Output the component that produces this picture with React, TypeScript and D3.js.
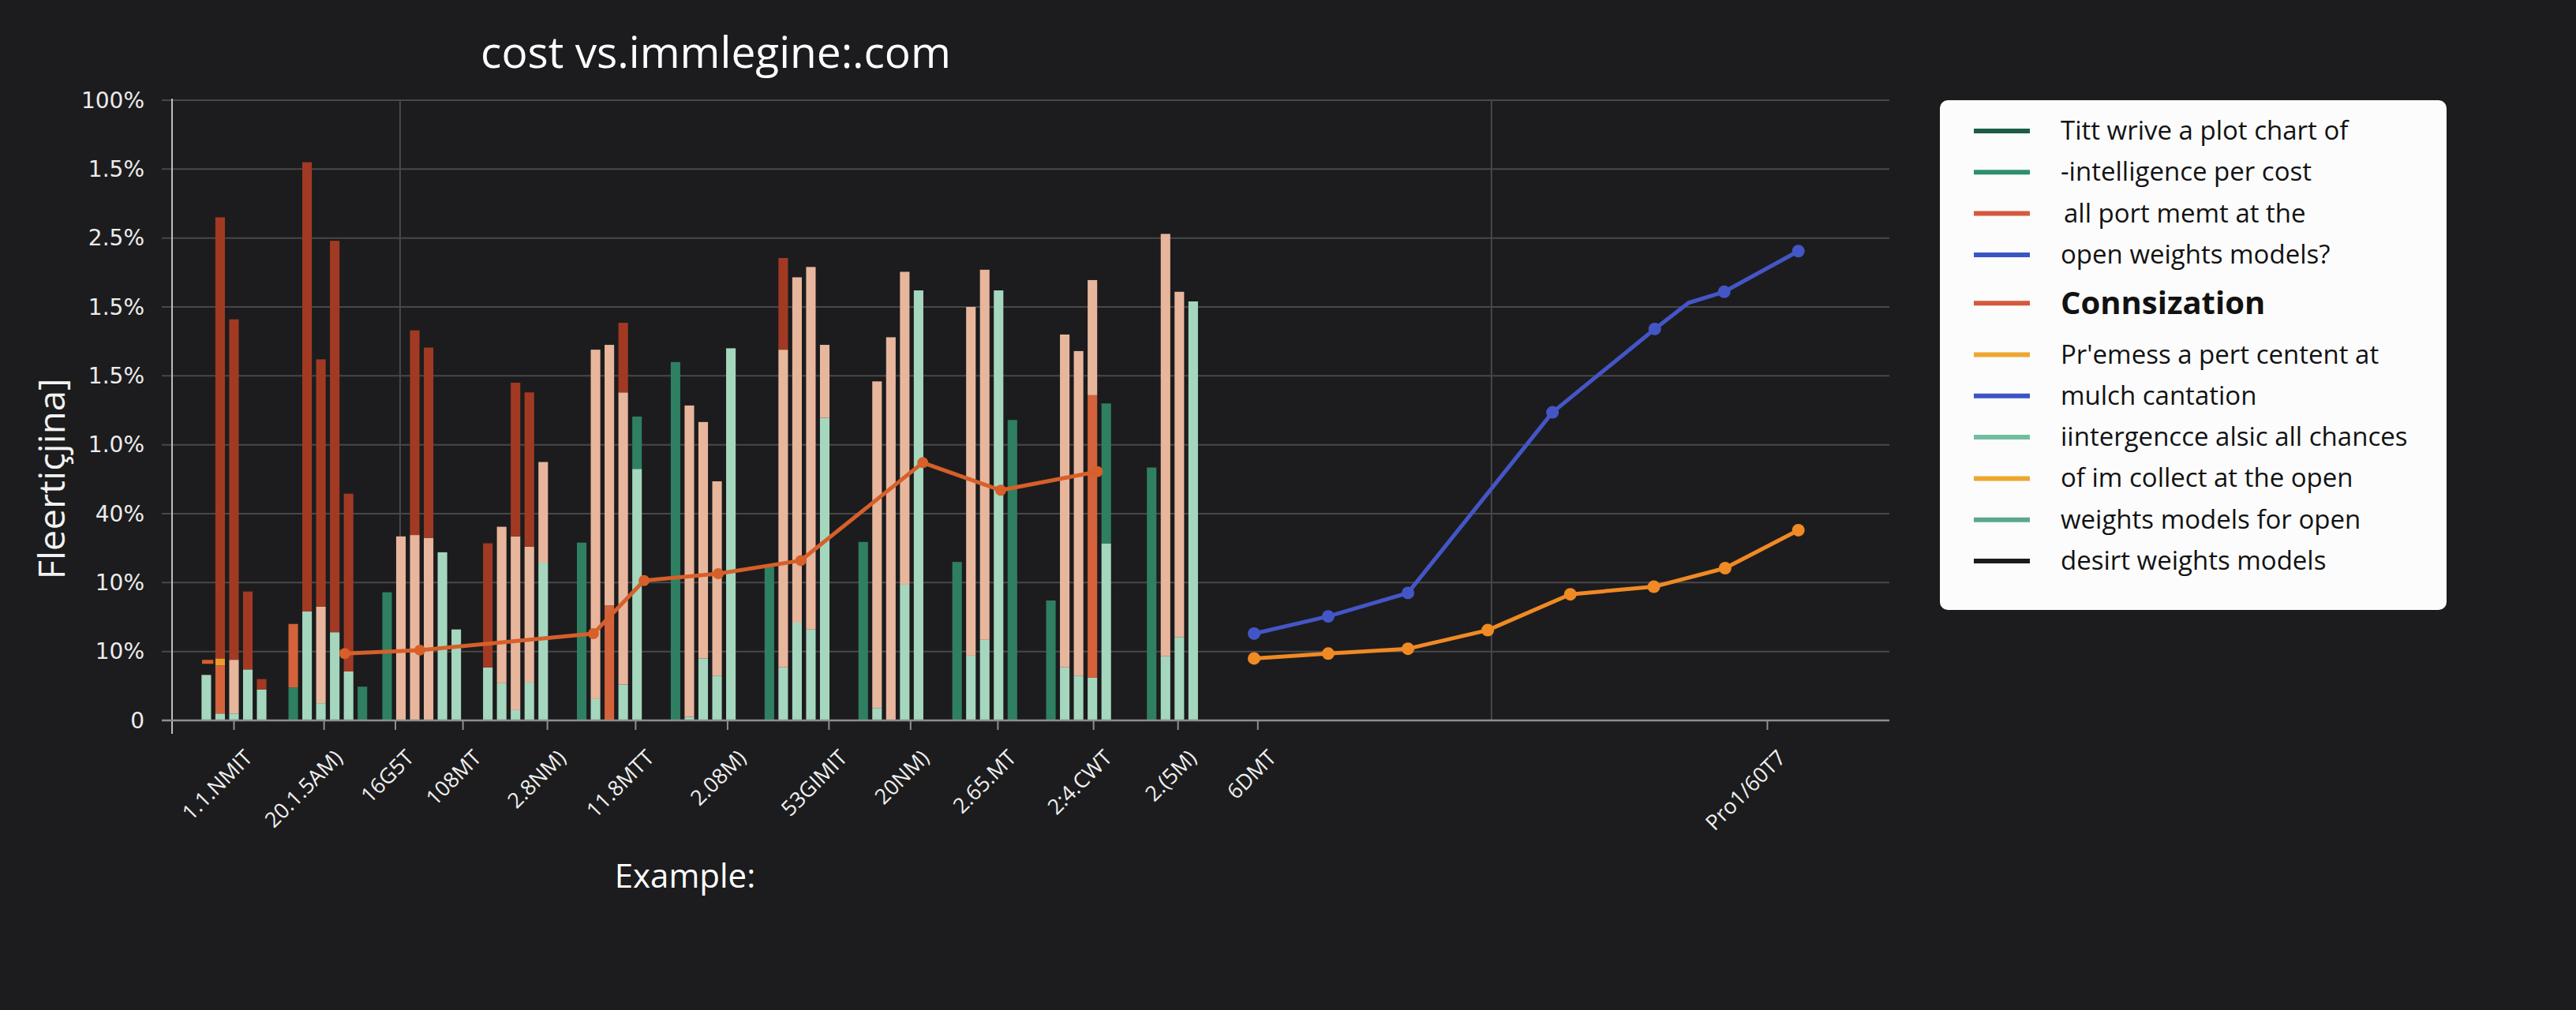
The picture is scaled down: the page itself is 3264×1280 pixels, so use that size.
import React, { useEffect, useRef } from "react";
import * as d3 from "d3";

const titleText = "cost vs.immlegine:.com";
const yAxisTitle = "Fleertiçjina]";
const xAxisTitle = "Example:";

// y ticks, bottom to top
const yTickLabels = ["0", "10%", "10%", "40%", "1.0%", "1.5%", "1.5%", "2.5%", "1.5%", "100%"];

const xLabels = ["1.1.NMIT", "20.1.5AM)", "16G5T", "108MT", "2.8NM)", "11.8MTT", "2.08M)", "53GIMIT", "20NM)", "2.65.MT", "2:4.CWT", "2.(5M)", "6DMT", "Pro1/60T7"];
const xLabelPos = [0, 0.96, 1.72, 2.44, 3.34, 4.28, 5.26, 6.34, 7.21, 8.14, 9.16, 10.06, 10.91, 16.34];
const xGridPos = [1.77, 13.4];

// every bar is stacked from the bottom: [colour key, top value]
const group1 = [
  [["mint", 0.66]],
  [["mint", 0.1], ["orange", 0.8], ["amber", 0.9], ["red", 7.3]],
  [["mint", 0.1], ["peach", 0.88], ["red", 5.82]],
  [["mint", 0.74], ["red", 1.87]],
  [["mint", 0.45], ["red", 0.6]],
];
const group2 = [
  [["dkgreen", 0.48], ["orange", 1.4]],
  [["mint", 1.58], ["red", 8.1]],
  [["mint", 0.25], ["peach", 1.65], ["red", 5.24]],
  [["mint", 1.28], ["red", 6.96]],
  [["mint", 0.71], ["red", 3.29]],
  [["dkgreen", 0.49]],
];
const group3 = [
  [["dkgreen", 1.86]],
  [["peach", 2.67]],
  [["peach", 2.69], ["red", 5.66]],
  [["peach", 2.65], ["red", 5.41]],
  [["mint", 2.44]],
  [["mint", 1.32]],
];
const group4 = [
  [["mint", 0.77], ["red", 2.57]],
  [["mint", 0.54], ["peach", 2.81]],
  [["mint", 0.15], ["peach", 2.67], ["red", 4.9]],
  [["mint", 0.55], ["peach", 2.52], ["red", 4.76]],
  [["mint", 2.29], ["peach", 3.75]],
];
const group5 = [
  [["dkgreen", 2.58]],
  [["mint", 0.31], ["peach", 5.38]],
  [["orange", 1.67], ["peach", 5.45]],
  [["mint", 0.52], ["peach", 4.76], ["red", 5.77]],
  [["mint", 3.65], ["dkgreen", 4.41]],
];
const group6 = [
  [["dkgreen", 5.2]],
  [["mint", 0.05], ["peach", 4.57]],
  [["mint", 0.9], ["peach", 4.33]],
  [["mint", 0.65], ["peach", 3.47]],
  [["mint", 5.4]],
];
const group7 = [
  [["dkgreen", 2.23]],
  [["mint", 0.77], ["peach", 5.38], ["red", 6.71]],
  [["mint", 1.42], ["peach", 6.43]],
  [["mint", 1.32], ["peach", 6.58]],
  [["mint", 4.39], ["peach", 5.45]],
];
const group8 = [
  [["dkgreen", 2.59]],
  [["mint", 0.18], ["peach", 4.92]],
  [["peach", 5.56]],
  [["mint", 1.97], ["peach", 6.51]],
  [["mint", 6.24]],
];
const group9 = [
  [["dkgreen", 2.3]],
  [["mint", 0.94], ["peach", 6.0]],
  [["mint", 1.17], ["peach", 6.54]],
  [["mint", 6.24]],
  [["dkgreen", 4.36]],
];
const group10 = [
  [["dkgreen", 1.74]],
  [["mint", 0.77], ["peach", 5.6]],
  [["mint", 0.65], ["peach", 5.36]],
  [["mint", 0.62], ["orange", 4.72], ["peach", 6.39]],
  [["mint", 2.57], ["dkgreen", 4.6]],
];
const group11 = [
  [["dkgreen", 3.67]],
  [["mint", 0.93], ["peach", 7.06]],
  [["mint", 1.21], ["peach", 6.22]],
  [["mint", 6.08]],
];
const barGroups = [group1, group2, group3, group4, group5, group6, group7, group8, group9, group10, group11];

const redDashX = [-0.34, -0.22];
const redDashY = [0.85, 0.85];
const redLineX = [1.18, 1.98, 3.83, 4.37, 5.16, 6.04, 7.34, 8.17, 9.2];
const redLineY = [0.97, 1.02, 1.26, 2.03, 2.13, 2.32, 3.74, 3.34, 3.61];

const blueLineX = [10.87, 11.66, 12.51, 14.05, 15.14, 15.5, 15.88, 16.67];
const blueLineY = [1.26, 1.51, 1.85, 4.47, 5.68, 6.06, 6.22, 6.81];
const blueMarked = [true, true, true, true, true, false, true, true];

const orangeLineX = [10.87, 11.66, 12.51, 13.36, 14.24, 15.13, 15.89, 16.67];
const orangeLineY = [0.9, 0.97, 1.04, 1.31, 1.83, 1.94, 2.21, 2.76];

const legendLabels = [
  "Titt wrive a plot chart of",
  "-intelligence per cost",
  "all port memt at the",
  "open weights models?",
  "Connsization",
  "Pr'emess a pert centent at",
  "mulch cantation",
  "iintergencce alsic all chances",
  "of im collect at the open",
  "weights models for open",
  "desirt weights models",
];
const legendColors = ["#1f5c48", "#2e8f6e", "#d45a3b", "#3c55c4", "#d45a3b", "#eea62f", "#3c55c4", "#6fbf9f", "#eea62f", "#5aa88b", "#1b1b1b"];

const barColors: Record<string, string> = {
  red: "#a23a23",
  orange: "#d4623a",
  amber: "#ee9a2e",
  peach: "#e8b69c",
  mint: "#a5d7be",
  dkgreen: "#2f7f62",
};

export default function App() {
  const ref = useRef<SVGSVGElement>(null);

  useEffect(() => {
    document.body.style.margin = "0";
    const W = 3264, H = 1280;
    const left = 218, right = 2394, top = 127, bottom = 913;
    const font = "'Open Sans', 'Noto Sans', sans-serif";

    const svg = d3.select(ref.current);
    svg.selectAll("*").remove();
    svg.append("rect").attr("width", W).attr("height", H).attr("fill", "#1c1c1e");

    const x = d3.scaleLinear().domain([-0.66, 17.64]).range([left, right]);
    const y = d3.scaleLinear().domain([0, 9]).range([bottom, top]);

    // grid
    svg.append("g").selectAll("line").data(d3.range(yTickLabels.length)).join("line")
      .attr("x1", left - 13).attr("x2", right)
      .attr("y1", d => y(d)).attr("y2", d => y(d))
      .attr("stroke", "#48484b").attr("stroke-width", 2);
    svg.append("g").selectAll("line").data(xGridPos).join("line")
      .attr("x1", d => x(d)).attr("x2", d => x(d))
      .attr("y1", top).attr("y2", bottom)
      .attr("stroke", "#48484b").attr("stroke-width", 2);

    // bars
    const slot = 17.5;
    barGroups.forEach((bars, gi) => {
      const n = bars.length;
      const cx = x(gi);
      const band = d3.scaleBand<number>().domain(d3.range(n))
        .range([cx - (n * slot) / 2, cx + (n * slot) / 2])
        .paddingInner(0.31).paddingOuter(0.15);
      const g = svg.append("g");
      bars.forEach((segs, bi) => {
        let prev = 0;
        segs.forEach(([kind, v]) => {
          const val = v as number;
          g.append("rect")
            .attr("x", band(bi)!)
            .attr("width", band.bandwidth())
            .attr("y", y(val))
            .attr("height", y(prev) - y(val))
            .attr("fill", barColors[kind as string]);
          prev = val;
        });
      });
    });

    // y axis
    svg.append("line").attr("x1", left).attr("x2", left).attr("y1", top - 2).attr("y2", bottom + 17)
      .attr("stroke", "#bdbdbd").attr("stroke-width", 2);
    svg.append("g").selectAll("text").data(yTickLabels).join("text")
      .attr("x", left - 35).attr("y", (d, i) => y(i))
      .attr("text-anchor", "end").attr("dominant-baseline", "central")
      .attr("fill", "#ececec").attr("font-family", "'DejaVu Sans', sans-serif").attr("font-size", 28)
      .text(d => d);

    // x axis
    svg.append("line").attr("x1", left - 13).attr("x2", right).attr("y1", bottom).attr("y2", bottom)
      .attr("stroke", "#8e8e90").attr("stroke-width", 2.5);
    svg.append("g").selectAll("line").data(xLabelPos).join("line")
      .attr("x1", d => x(d)).attr("x2", d => x(d)).attr("y1", bottom).attr("y2", bottom + 12)
      .attr("stroke", "#8e8e90").attr("stroke-width", 2);
    svg.append("g").selectAll("text").data(xLabels).join("text")
      .attr("transform", (d, i) => `translate(${x(xLabelPos[i]) + 25},${bottom + 49}) rotate(-45)`)
      .attr("text-anchor", "end")
      .attr("fill", "#f0f0f0").attr("font-family", font).attr("font-size", 27)
      .text(d => d);

    // lines
    const line = d3.line<[number, number]>().x(d => x(d[0])).y(d => y(d[1]));
    const drawLine = (xs: number[], ys: number[], color: string, marks: boolean[] | null, r: number) => {
      const pts = xs.map((v, i) => [v, ys[i]] as [number, number]);
      svg.append("path").attr("d", line(pts)!).attr("fill", "none")
        .attr("stroke", color).attr("stroke-width", 5).attr("stroke-linejoin", "round");
      if (r > 0) {
        svg.append("g").selectAll("circle").data(pts.filter((p, i) => !marks || marks[i])).join("circle")
          .attr("cx", d => x(d[0])).attr("cy", d => y(d[1])).attr("r", r).attr("fill", color);
      }
    };
    drawLine(redDashX, redDashY, "#d65f2a", null, 0);
    drawLine(redLineX, redLineY, "#d65f2a", null, 7);
    drawLine(blueLineX, blueLineY, "#4456c6", blueMarked, 8);
    drawLine(orangeLineX, orangeLineY, "#f08a24", null, 8);

    // titles
    svg.append("text").attr("x", 907).attr("y", 86).attr("text-anchor", "middle")
      .attr("fill", "#ffffff").attr("font-family", font).attr("font-size", 55).attr("font-weight", 500)
      .text(titleText);
    svg.append("text").attr("transform", "translate(82,607) rotate(-90)").attr("text-anchor", "middle")
      .attr("fill", "#f2f2f2").attr("font-family", font).attr("font-size", 46)
      .attr("textLength", 255).attr("lengthAdjust", "spacingAndGlyphs")
      .text(yAxisTitle);
    svg.append("text").attr("x", 868).attr("y", 1125).attr("text-anchor", "middle")
      .attr("fill", "#ffffff").attr("font-family", font).attr("font-size", 42)
      .text(xAxisTitle);

    // legend
    const lg = svg.append("g").attr("transform", "translate(2458,127)");
    lg.append("rect").attr("width", 642).attr("height", 646).attr("rx", 10).attr("fill", "#fcfcfc");
    const rowY = (i: number) => 39 + i * 52.3 + (i >= 4 ? 9 : 0) + (i >= 5 ? 13 : 0);
    legendLabels.forEach((label, i) => {
      lg.append("line").attr("x1", 43).attr("x2", 114).attr("y1", rowY(i)).attr("y2", rowY(i))
        .attr("stroke", legendColors[i]).attr("stroke-width", 6);
      lg.append("text").attr("x", i === 2 ? 157 : 153).attr("y", rowY(i) + (i === 4 ? 14 : 11))
        .attr("fill", "#121212").attr("font-family", font)
        .attr("font-size", i === 4 ? 40 : 33).attr("font-weight", i === 4 ? 700 : 500)
        .text(label);
    });
  }, []);

  return <svg ref={ref} width={3264} height={1280} style={{ display: "block" }} />;
}
